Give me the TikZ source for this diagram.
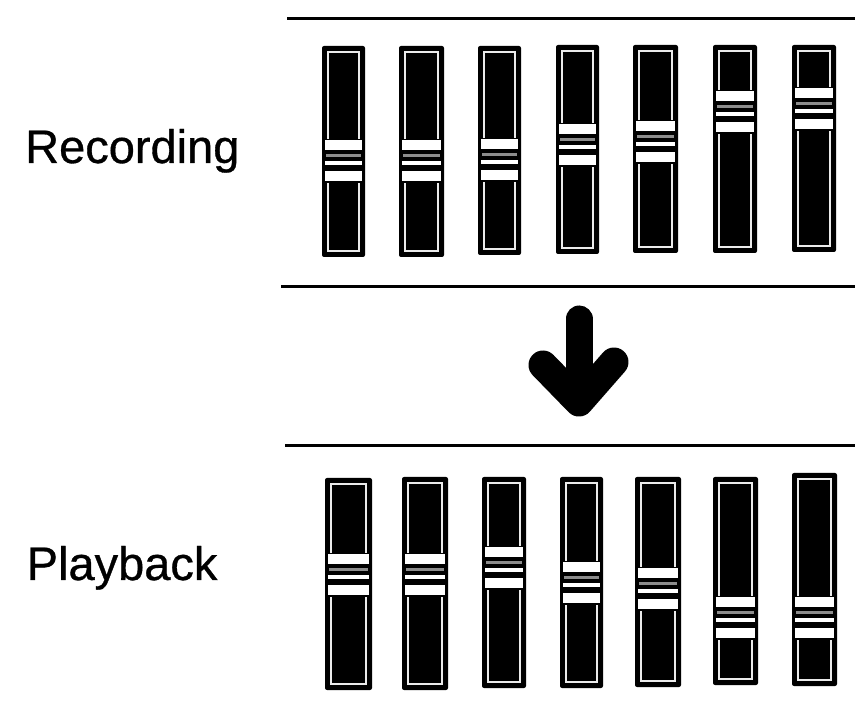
\documentclass[tikz,border=0pt]{standalone}
\usepackage{fontspec}
\setmainfont{Liberation Sans}
\newfontfamily\labelfont{Liberation Sans}[BoldFont={Liberation Sans}, BoldFeatures={FakeBold=0.7}]
\newcommand\fader[5]{%
  \fill[black, rounded corners=2pt] (#1,#3) rectangle (#2,#4);
  \draw[white!92!black, line width=2.2pt] (#1+6,#3+6) rectangle (#2-6,#4-6);
  \fill[black] (#1,#5-22) rectangle (#2,#5+22);
  \fill[white] (#1+3,#5-21) rectangle (#2-3,#5-11);
  \fill[white!55!black] (#1+4,#5-7) rectangle (#2-4,#5-4);
  \fill[white] (#1+3,#5+0) rectangle (#2-3,#5+4);
  \fill[white] (#1+3,#5+10) rectangle (#2-3,#5+20);
}
\begin{document}
\begin{tikzpicture}[x=1pt,y=-1pt,
  rule/.style={line width=3pt},
  arrowstroke/.style={line width=29pt, line cap=round, line join=round},
  label/.style={anchor=base west, inner sep=0pt, font=\labelfont\bfseries\fontsize{47}{56}\selectfont}]
\useasboundingbox (0,0) rectangle (855,708);
% rules
\coordinate (r1a) at (287,19);  \coordinate (r1b) at (855,19);
\coordinate (r2a) at (281,287); \coordinate (r2b) at (855,287);
\coordinate (r3a) at (285,446); \coordinate (r3b) at (855,446);
\draw[rule] (r1a) -- (r1b);
\draw[rule] (r2a) -- (r2b);
\draw[rule] (r3a) -- (r3b);
% labels
\node[label] (rec) at (25,163) {Recording};
\node[label] (play) at (26.5,580) {Playback};
% recording faders
\fader{322}{365}{46}{257}{161}
\fader{399}{444}{46}{257}{161}
\fader{478}{521}{46}{255}{160}
\fader{556}{599}{45}{254}{145}
\fader{633}{678}{45}{253}{142}
\fader{713}{757}{45}{253}{112}
\fader{792}{836}{45}{252}{109}
% arrow
\coordinate (atop) at (579,319);
\coordinate (atip) at (579,402);
\coordinate (aleft) at (543,365);
\coordinate (aright) at (614,362);
\draw[arrowstroke, line width=27pt] (atop) -- (atip);
\draw[arrowstroke] (aleft) -- (atip) -- (aright);
% playback faders
\fader{325}{372}{478}{690}{575}
\fader{402}{448}{477}{690}{575}
\fader{482}{526}{477}{688}{568}
\fader{560}{603}{477}{688}{583}
\fader{635}{681}{477}{687}{589}
\fader{713}{758}{477}{685}{618}
\fader{792}{837}{473}{686}{618}
\end{tikzpicture}
\end{document}
